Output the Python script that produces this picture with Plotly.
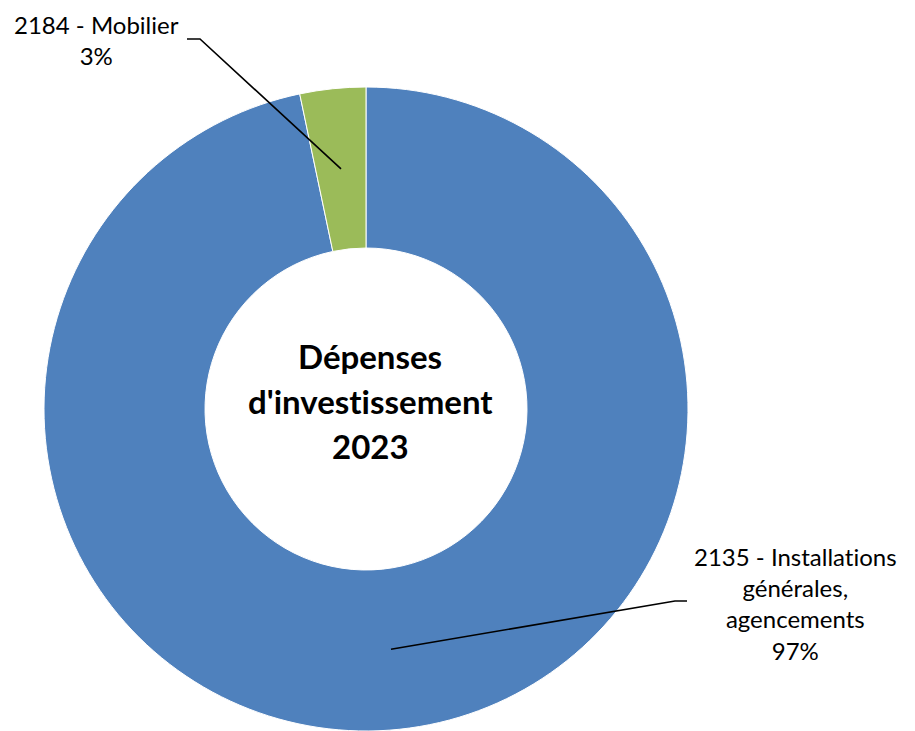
import math
import plotly.graph_objects as go

# Investment spending by account, share of total (%)
categories = ["2135 - Installations générales, agencements", "2184 - Mobilier"]
label_lines = [["2135 - Installations", "générales,", "agencements"], ["2184 - Mobilier"]]
values = [96.7, 3.3]
colors = ["#4F81BD", "#9BBB59"]
title_lines = ["Dépenses", "d'investissement", "2023"]

W, H = 915, 731
FONT = "Lato"
NOLIG = "font-variant-ligatures:none;font-feature-settings:'liga' 0"

# Pie placement in pixels (domain drives the radius)
cx, cy = 366, 409
R = 322
hole = 0.5

fig = go.Figure(
    go.Pie(
        labels=categories,
        values=values,
        hole=hole,
        sort=False,
        direction="clockwise",
        rotation=0,
        marker=dict(colors=colors, line=dict(color="#FFFFFF", width=1)),
        textinfo="none",
        hoverinfo="label+percent",
        showlegend=False,
        domain=dict(x=[(cx - R) / W, (cx + R) / W], y=[0, (H - cy + R) / H]),
    )
)


def px(x, y):
    return x / W, 1 - y / H


def ring_mid(i):
    total = sum(values)
    frac = (sum(values[:i]) + values[i] / 2) / total
    theta = 2 * math.pi * frac
    r = R * (1 + hole) / 2
    return cx + r * math.sin(theta), cy - r * math.cos(theta)


def plain(s, bold=False):
    inner = f"<b>{s}</b>" if bold else s
    return f'<span style="{NOLIG}">{inner}</span>'


total = sum(values)
pct = [round(100 * v / total) for v in values]

# leader line knees/tails and label anchor for each slice
leaders = [
    dict(knee=(675, 601), tail=(687, 601), text_xy=(795, 603)),
    dict(knee=(200, 39), tail=(187, 39), text_xy=(96, 40)),
]

shapes = []
annotations = []
for i, ld in enumerate(leaders):
    ex, ey = ring_mid(i)
    p0 = px(ex, ey)
    p1 = px(*ld["knee"])
    p2 = px(*ld["tail"])
    shapes.append(
        dict(
            type="path",
            xref="paper",
            yref="paper",
            path=f"M {p0[0]},{p0[1]} L {p1[0]},{p1[1]} L {p2[0]},{p2[1]}",
            line=dict(color="#000000", width=1.6),
        )
    )
    tx, ty = px(*ld["text_xy"])
    annotations.append(
        dict(
            x=tx,
            y=ty,
            xref="paper",
            yref="paper",
            xanchor="center",
            yanchor="middle",
            align="center",
            showarrow=False,
            text="<br>".join(plain(s) for s in label_lines[i] + [f"{pct[i]}%"]),
            font=dict(family=FONT, size=24, color="#000000"),
        )
    )

# centre title, one line per annotation
for j, line in enumerate(title_lines):
    tx, ty = px(370, 356 + 45 * j)
    annotations.append(
        dict(
            x=tx,
            y=ty,
            xref="paper",
            yref="paper",
            xanchor="center",
            yanchor="middle",
            showarrow=False,
            text=plain(line, bold=True),
            font=dict(family=FONT, size=33, color="#000000"),
        )
    )

fig.update_layout(
    width=W,
    height=H,
    margin=dict(l=0, r=0, t=0, b=0),
    paper_bgcolor="#FFFFFF",
    plot_bgcolor="#FFFFFF",
    shapes=shapes,
    annotations=annotations,
)

fig.write_html("out.html", config={"displayModeBar": False})
